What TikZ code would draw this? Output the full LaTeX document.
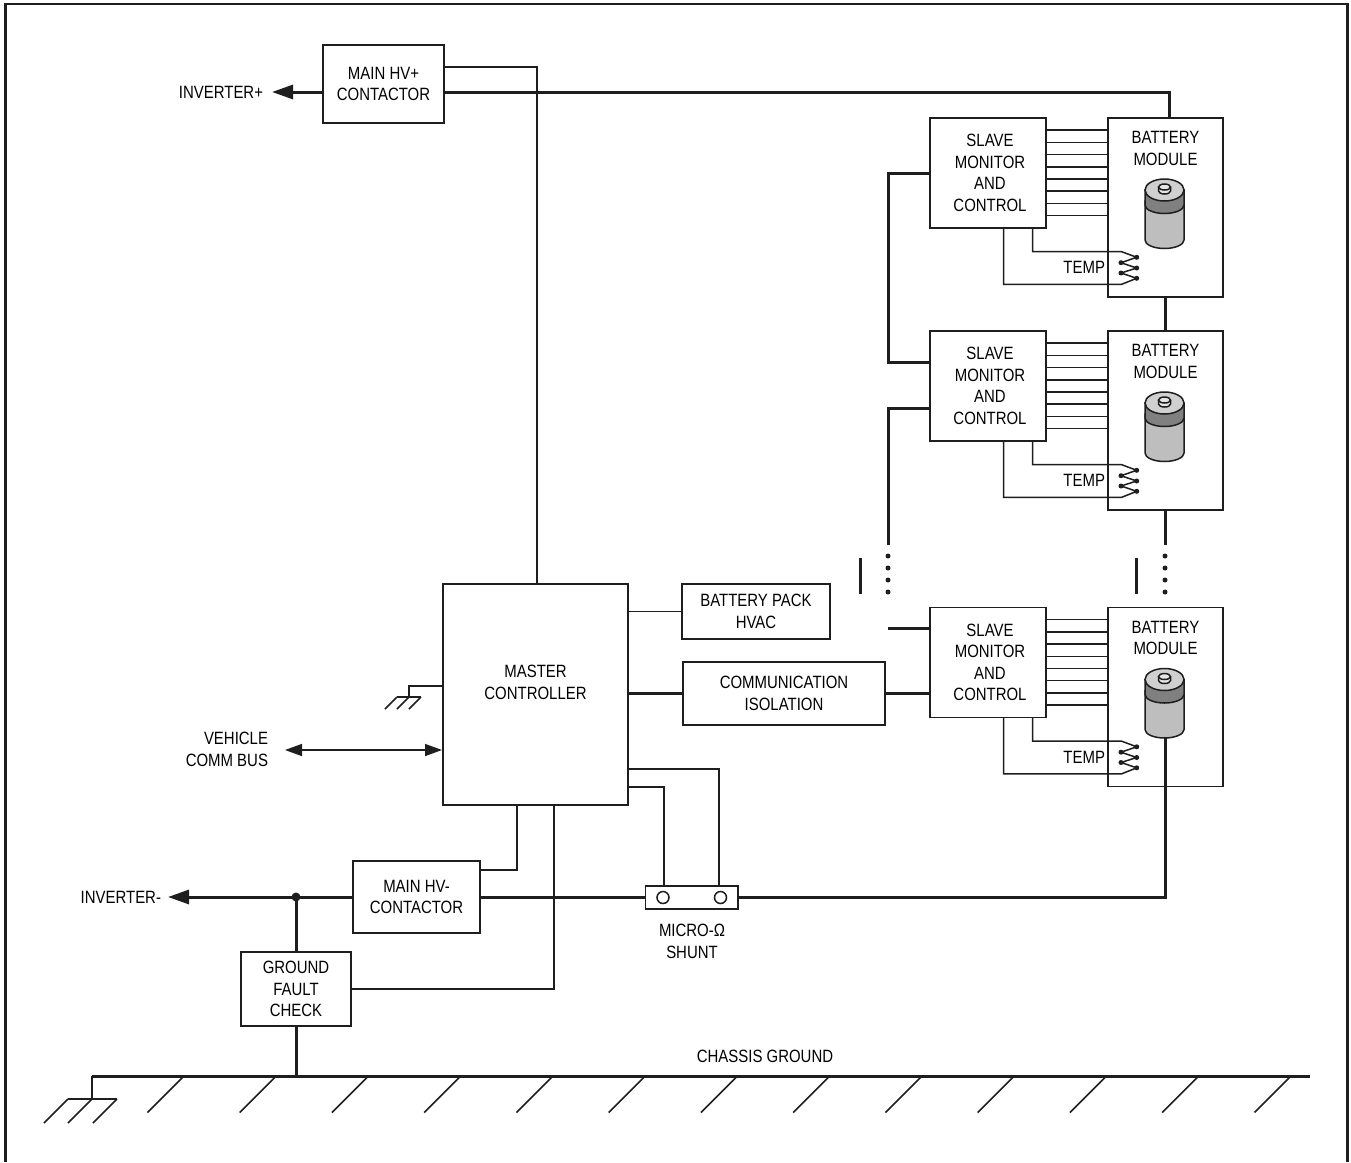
\documentclass[tikz,border=0pt]{standalone}
\usepackage{fontspec}
\setmainfont{Liberation Sans}[FakeStretch=0.84]
\usetikzlibrary{positioning,arrows.meta,calc}
\definecolor{inkline}{RGB}{30,30,30}
\definecolor{celltop}{RGB}{208,208,208}
\definecolor{cellband}{RGB}{128,128,128}
\definecolor{cellbody}{RGB}{190,190,190}
\definecolor{cellcap}{RGB}{230,230,230}
\tikzset{
  box/.style={draw=inkline, line width=1.5pt, fill=white, anchor=north west, inner sep=0pt, outer sep=0pt, align=center, font=\fontsize{17.8}{21.5}\selectfont},
  lbl/.style={inner sep=0pt, outer sep=0pt, align=center, font=\fontsize{17.8}{21.5}\selectfont},
  wire/.style={draw=inkline, line width=1.5pt},
  bus/.style={draw=inkline, line width=3pt},
  frameline/.style={draw=inkline, line width=2.5pt},
  bigtip/.style={-{Triangle[length=21pt,width=14pt]}},
  cell/.pic={
    \draw[wire, fill=cellbody] (-19.5,11) -- (-19.5,50) arc[x radius=19.5, y radius=8.5, start angle=180, end angle=0] -- (19.5,11) -- cycle;
    \draw[wire, fill=cellband] (-19.5,0) -- (-19.5,15) arc[x radius=19.5, y radius=8.5, start angle=180, end angle=0] -- (19.5,0) -- cycle;
    \draw[wire, fill=celltop] (0,0) ellipse[x radius=19.5, y radius=11];
    \draw[wire, fill=cellcap] (-6,-3) -- (-6,1) arc[x radius=6, y radius=3, start angle=180, end angle=0] -- (6,-3);
    \draw[wire, fill=cellcap] (0,-3) ellipse[x radius=6, y radius=3];
  }
}

\begin{document}
\begin{tikzpicture}[x=1pt, y=-1pt]
  \useasboundingbox (0,0) rectangle (1351,1162);
  \draw[frameline] (5.5,1162) -- (5.5,4) -- (1347.5,4) -- (1347.5,1162);

  % contactors and controller
  \node[box, minimum width=121pt, minimum height=78pt] (hvplus) at (323,45) {MAIN HV+\\CONTACTOR};
  \node[box, minimum width=185pt, minimum height=221pt] (master) at (443,584) {};
  \node[lbl] (mastertext) at ([yshift=12pt]master.center) {MASTER\\CONTROLLER};
  \node[box, minimum width=148pt, minimum height=55pt] (hvac) at (682,584) {BATTERY PACK\\HVAC};
  \node[box, minimum width=202pt, minimum height=63pt] (comm) at (683,662) {COMMUNICATION\\ISOLATION};
  \node[box, minimum width=127pt, minimum height=72pt] (hvminus) at (353,861) {MAIN HV-\\CONTACTOR};
  \node[box, minimum width=110pt, minimum height=74pt] (gfault) at (241,952) {GROUND\\FAULT\\CHECK};
  \node[box, minimum width=92.5pt, minimum height=23pt] (shunt) at (645.5,886) {};
  \node[circle, draw=inkline, line width=1.5pt, minimum size=12pt, inner sep=0pt] (portl) at (663,897.5) {};
  \node[circle, draw=inkline, line width=1.5pt, minimum size=12pt, inner sep=0pt] (portr) at (720.5,897.5) {};

  \node[lbl, anchor=east] (invplus) at (263,92) {INVERTER+};
  \node[lbl, anchor=east] (invminus) at (161,897) {INVERTER-};
  \node[lbl, anchor=east, align=right] (vehicle) at (268,749.5) {VEHICLE\\COMM BUS};
  \node[lbl] (shunttext) at (692,941.5) {MICRO-Ω\\SHUNT};
  \node[lbl] (chassis) at (765,1056.5) {CHASSIS GROUND};

  % slave and battery rows
  \foreach \r/\y in {a/118, b/331, c/607.5} {
    \node[box, minimum width=116pt, minimum height=110pt] (s\r) at (930,\y) {};
    \node[lbl] (st\r) at ([xshift=2pt]s\r.center) {SLAVE\\MONITOR\\AND\\CONTROL};
    \node[box, minimum width=115pt, minimum height=179pt] (m\r) at (1108,\y) {};
    \node[lbl, below=13.5pt of m\r.north] (t\r) {BATTERY\\MODULE};
    \foreach \k in {1,...,8}
      \draw[wire] ($(s\r.north east)+(0,12.2*\k)$) -- ($(m\r.north west)+(0,12.2*\k)$);
    \pic at ($(m\r.north west)+(56.5,72)$) {cell};
    \node[lbl, anchor=east] (temp\r) at ($(m\r.north west)+(-3,149.5)$) {TEMP};
    \coordinate (zt\r) at ($(m\r.north west)+(13.7,133.7)$);
    \coordinate (zb\r) at ($(m\r.north west)+(13.7,166.3)$);
    \draw[wire] ([xshift=-13.5pt]s\r.south east) |- (zt\r)
      -- ($(m\r.north west)+(28.7,139.3)$) -- ($(m\r.north west)+(13,144.7)$)
      -- ($(m\r.north west)+(28.7,150)$) -- ($(m\r.north west)+(13,155)$)
      -- ($(m\r.north west)+(28.7,160.3)$) -- (zb\r) -| ([xshift=15.7pt]s\r.south);
    \foreach \px/\py in {28.7/139.3, 13/144.7, 28.7/150, 13/155, 28.7/160.3}
      \fill[inkline] ($(m\r.north west)+(\px,\py)$) circle (2.5);
  }

  % power path
  \coordinate (cellc) at (1165,737);
  \coordinate (jct) at (gfault.north |- hvminus.west);
  \coordinate (busl) at (92,1076);
  \coordinate (busr) at (1310,1076);
  \draw[bus, bigtip, shorten >=9pt] ([yshift=-8pt]hvplus.west) -- (invplus.east);
  \draw[bus] ([yshift=-8pt]hvplus.east) -| ([xshift=3.5pt]ma.north);
  \draw[bus] (ma.south) -- (mb.north);
  \draw[bus] (mb.south) -- +(0,35);
  \draw[bus] (cellc) |- (shunt.east);
  \draw[bus] (hvminus.east) -- (hvminus.east -| shunt.west);
  \draw[bus, bigtip, shorten >=7pt] (hvminus.west) -- (invminus.east);
  \fill[inkline] (jct) circle (4.5);
  \draw[bus] (jct) -- (gfault.north);
  \draw[bus] (gfault.south) -- (gfault.south |- busl);
  \draw[bus] (busl) -- (busr);

  % slave links
  \coordinate (linka) at (888,362);
  \coordinate (linkb) at (888,545);
  \coordinate (linkc) at (888,628);
  \draw[bus] (sa.west) -| (linka) -- (linka -| sb.west);
  \draw[bus] (linkb) |- ([yshift=-22pt]sb.west);
  \draw[bus] (linkc) -- (linkc -| sc.west);
  \draw[bus] (master.east |- comm.west) -- (comm.west);
  \draw[bus] (comm.east) -- (comm.east -| sc.west);

  % break marks
  \foreach \d in {556,568,580,592} {
    \fill[inkline] (888,\d) circle (2.5);
    \fill[inkline] (1165,\d) circle (2.5);
  }
  \draw[bus] (860,558) -- (860,594);
  \draw[bus] (1136,558) -- (1136,594);

  % control wires
  \draw[wire] ([yshift=17pt]hvplus.east) -| ([xshift=1.5pt]master.north);
  \draw[wire] (master.east |- hvac.west) -- (hvac.west);
  \draw[wire] ([xshift=-18.5pt]master.south) |- ([yshift=27pt]hvminus.east);
  \draw[wire] ([xshift=18.5pt]master.south) |- (gfault.east);
  \draw[wire] ([yshift=-92.5pt]master.east) -| ([xshift=-27.75pt]shunt.north);
  \draw[wire] ([yshift=-74.5pt]master.east) -| ([xshift=27.25pt]shunt.north);
  \coordinate (vbus) at (285,750);
  \draw[wire, {Triangle[length=17pt,width=12pt]}-{Triangle[length=17pt,width=12pt]}, shorten >=1pt] (vbus) -- (vbus -| master.west);

  % ground marks
  \coordinate (gnda) at (409,697);
  \draw[wire] ([yshift=8.5pt]master.west) -| (gnda);
  \draw[wire] (397,697) -- (421,697);
  \foreach \gx in {397,409,421}
    \draw[wire] (\gx,697) -- ++(-12,12);
  \coordinate (gndb) at (92,1099);
  \draw[wire] (busl) -- (gndb);
  \draw[wire] (68,1099) -- (117,1099);
  \foreach \gx in {68,92,117}
    \draw[wire] (\gx,1099) -- ++(-24,24);
  \foreach \k in {0,...,12}
    \draw[wire] ({184+92.25*\k},1076) -- ++(-36.5,36.5);
\end{tikzpicture}
\end{document}
